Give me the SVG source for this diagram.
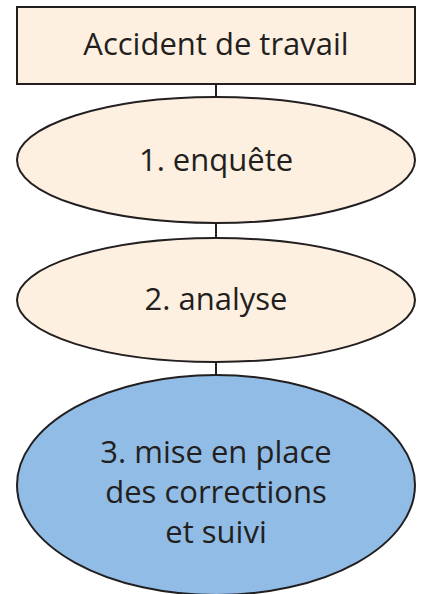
<svg xmlns="http://www.w3.org/2000/svg" width="423" height="594" viewBox="0 0 423 594">
  <style>
    .box { fill: #fdf0e0; stroke: #231f20; stroke-width: 2; }
    .final { fill: #91bce6; stroke: #231f20; stroke-width: 2; }
    .link { stroke: #231f20; stroke-width: 2; fill: none; }
    .label { font-family: "Open Sans", "Liberation Sans", sans-serif; font-size: 31px; fill: #231f20; text-anchor: middle; }
  </style>
  <rect width="423" height="594" fill="#ffffff"/>
  <g id="connectors">
    <line class="link" x1="216" y1="84" x2="216" y2="98"/>
    <line class="link" x1="216" y1="222" x2="216" y2="239"/>
    <line class="link" x1="216" y1="361" x2="216" y2="376"/>
  </g>
  <g id="accident">
    <rect class="box" x="17" y="7" width="398" height="77"/>
    <text class="label" x="216" y="55">Accident de travail</text>
  </g>
  <g id="enquete">
    <ellipse class="box" cx="216" cy="160" rx="199" ry="63"/>
    <text class="label" x="216" y="171">1. enquête</text>
  </g>
  <g id="analyse">
    <ellipse class="box" cx="216" cy="300" rx="199" ry="62"/>
    <text class="label" x="216" y="310">2. analyse</text>
  </g>
  <g id="corrections">
    <ellipse class="final" cx="216" cy="485" rx="199" ry="110"/>
    <text class="label" x="216" y="463">3. mise en place</text>
    <text class="label" x="216" y="503">des corrections</text>
    <text class="label" x="216" y="543">et suivi</text>
  </g>
</svg>
